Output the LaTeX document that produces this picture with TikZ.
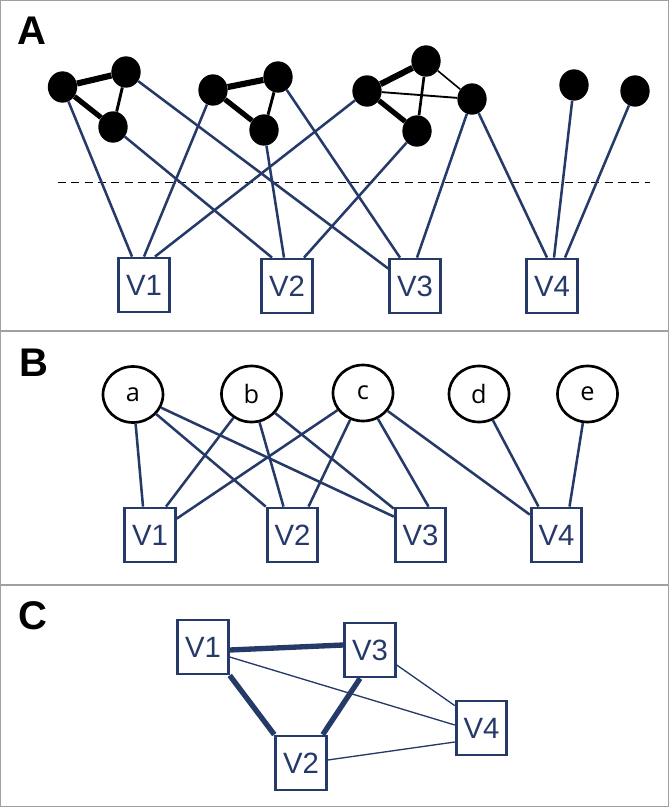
\documentclass[tikz,border=0pt]{standalone}
\usepackage{fontspec}
\setmainfont{Liberation Sans}
\newfontfamily\lettfont{Open Sans}
\usetikzlibrary{calc,shapes.geometric}
\definecolor{navy}{RGB}{38,58,105}
\definecolor{rim}{RGB}{160,160,160}
\tikzset{
	vbox/.style={
		rectangle, draw=navy, line width=2.1pt, fill=white,
		minimum width=38pt, minimum height=40.5pt, inner sep=0pt,
		text=navy, font=\fontsize{22}{26}\selectfont,
	},
	blob/.style={ellipse, fill=black, minimum width=22pt, minimum height=23.5pt, inner sep=0pt},
	lett/.style={
		ellipse, draw=black, line width=2pt, fill=white,
		minimum width=45pt, minimum height=42pt, inner sep=0pt,
		font=\lettfont\fontsize{19}{22}\selectfont,
	},
	link/.style={draw=navy, line width=1.9pt},
	bond/.style={draw=black, line width=#1},
	tie/.style={draw=navy, line width=#1},
	panel/.style={anchor=base west, inner sep=0pt, font=\fontsize{30}{30}\selectfont\bfseries},
}

\begin{document}
\begin{tikzpicture}[x=0.75pt, y=-0.75pt]
	\useasboundingbox (0,0) rectangle (669,807);
	\draw[rim, line width=1.1pt] (0.75,0.75) rectangle (668.25,806.25);
	\draw[rim, line width=1.1pt] (0,331) -- (669,331);
	\draw[rim, line width=1.1pt] (0,585) -- (669,585);
	
	\node[panel] (labA) at (17,44) {A};
	\node[panel] (labB) at (19,376) {B};
	\node[panel] (labC) at (18,629) {C};
	
	\draw[dash pattern=on 6pt off 4pt, line width=0.7pt] (58,182) -- (650,182);
	
	\node[vbox] (va1) at (144,285) {V1};
	\node[vbox] (va2) at (287,286) {V2};
	\node[vbox] (va3) at (415,286) {V3};
	\node[vbox] (va4) at (552,286) {V4};
	
	\node[blob] (ga1) at (62.5,87) {};
	\node[blob] (ga2) at (126,72) {};
	\node[blob] (ga3) at (113,127) {};
	\node[blob] (gb1) at (213,90) {};
	\node[blob] (gb2) at (278,77) {};
	\node[blob] (gb3) at (264,130) {};
	\node[blob] (gc1) at (367,91) {};
	\node[blob] (gc2) at (426,61) {};
	\node[blob] (gc3) at (472,99) {};
	\node[blob] (gc4) at (417,131) {};
	\node[blob] (gd1) at (574,85) {};
	\node[blob] (ge1) at (635,91) {};
	
	\path[bond=4.6pt] (ga1) -- (ga2);
	\path[bond=3.9pt] (ga1) -- (ga3);
	\path[bond=2.2pt] (ga2) -- (ga3);
	\path[bond=4.6pt] (gb1) -- (gb2);
	\path[bond=3.9pt] (gb1) -- (gb3);
	\path[bond=2.2pt] (gb2) -- (gb3);
	\path[bond=4.6pt] (gc1) -- (gc2);
	\path[bond=3.9pt] (gc1) -- (gc4);
	\path[bond=1.4pt] (gc1) -- (gc3);
	\path[bond=2pt] (gc2) -- (gc4);
	\path[bond=1.2pt] (gc2) -- (gc3);
	
	\path[link] (ga1) -- ($(va1.north)+(-12,0)$);
	\path[link] (gb1) -- (va1.north);
	\path[link] (gc1) -- ($(va1.north)+(11,0)$);
	\path[link] (ga3) -- ($(va2.north)+(-15,0)$);
	\path[link] (gb3) -- ($(va2.north)+(-3,0)$);
	\path[link] (gc4) -- ($(va2.north)+(17,0)$);
	\path[link] (ga2) -- ($(va3.north west)+(0,11)$);
	\path[link] (gb2) -- ($(va3.north)+(-15,0)$);
	\path[link] (gc3) -- ($(va3.north)+(2,0)$);
	\path[link] (gc3) -- ($(va4.north)+(-5,0)$);
	\path[link] (gd1) -- ($(va4.north)+(2,0)$);
	\path[link] (ge1) -- ($(va4.north)+(13,0)$);
	
	\node[vbox] (vb1) at (150,535) {V1};
	\node[vbox] (vb2) at (292.5,535) {V2};
	\node[vbox] (vb3) at (420.5,535) {V3};
	\node[vbox] (vb4) at (556.5,535) {V4};
	
	\node[lett] (a) at (133,394.5) {a};
	\node[lett] (b) at (251.5,394) {b};
	\node[lett] (c) at (363,393) {c};
	\node[lett] (d) at (479,394) {d};
	\node[lett] (e) at (587.5,394) {e};
	
	\path[link] (a) -- ($(vb1.north)+(-7,0)$);
	\path[link] (a) -- (vb2.north west);
	\path[link] (a) -- ($(vb3.north west)+(0,10)$);
	\path[link] (b) -- ($(vb1.north)+(16,0)$);
	\path[link] (b) -- ($(vb2.north)+(-9,0)$);
	\path[link] (b) -- ($(vb3.north west)+(0,2)$);
	\path[link] (c) -- ($(vb1.north east)+(0,12)$);
	\path[link] (c) -- ($(vb2.north)+(16,0)$);
	\path[link] (c) -- ($(vb3.north)+(8,0)$);
	\path[link] (c) -- ($(vb4.north west)+(0,8)$);
	\path[link] (d) -- ($(vb4.north)+(-18,0)$);
	\path[link] (e) -- ($(vb4.north)+(13,0)$);
	
	\node[vbox] (vc1) at (203,647) {V1};
	\node[vbox] (vc2) at (301,763) {V2};
	\node[vbox] (vc3) at (370,650) {V3};
	\node[vbox] (vc4) at (481.5,728) {V4};
	
	\path[tie=4pt] ($(vc1.east)+(0,3)$) -- ($(vc3.west)+(0,-5)$);
	\path[tie=4pt] (vc1.south east) -- (vc2.north west);
	\path[tie=4pt] ($(vc3.south)+(-10,0)$) -- ($(vc2.north east)+(-5,0)$);
	\path[tie=1pt] ($(vc1.east)+(0,10)$) -- ($(vc4.west)+(0,-3)$);
	\path[tie=1pt] ($(vc3.east)+(0,15)$) -- ($(vc4.north west)+(0,6)$);
	\path[tie=1pt] ($(vc2.east)+(0,-3)$) -- ($(vc4.west)+(0,14)$);
\end{tikzpicture}
\end{document}
